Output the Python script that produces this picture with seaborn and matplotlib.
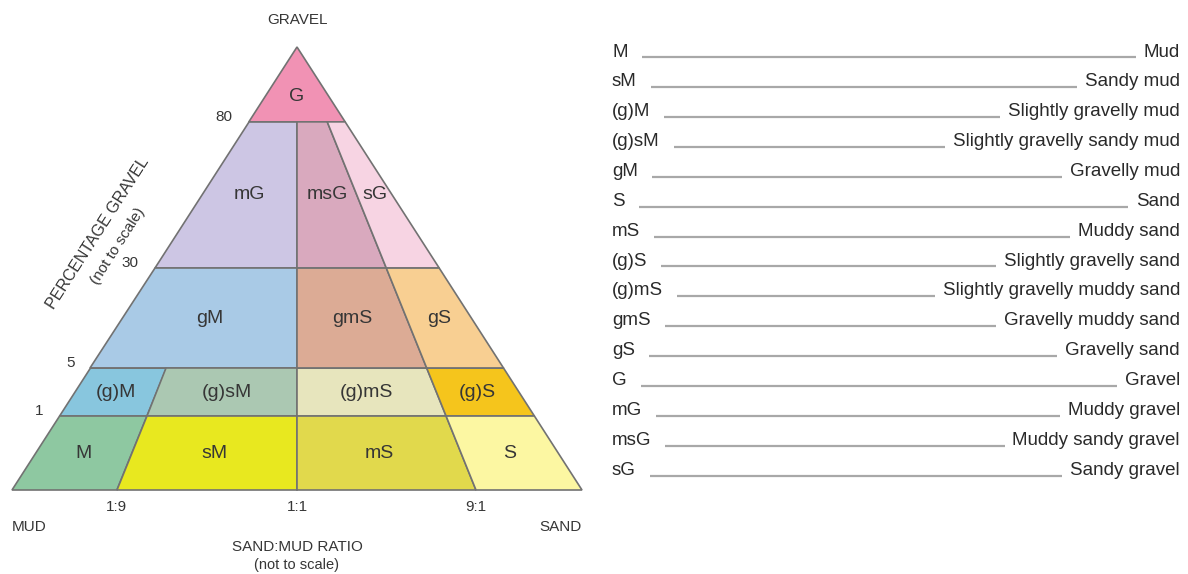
import numpy as np
import matplotlib
matplotlib.use("Agg")
import matplotlib.pyplot as plt
import seaborn as sns

# Folk (1954) gravel-sand-mud classes
region_codes = ["G", "mG", "msG", "sG", "gM", "gmS", "gS",
                "(g)M", "(g)sM", "(g)mS", "(g)S", "M", "sM", "mS", "S"]
sand_lo = [0.0, 0.0, 0.5, 0.9, 0.0, 0.5, 0.9, 0.0, 0.1, 0.5, 0.9, 0.0, 0.1, 0.5, 0.9]
sand_hi = [1.0, 0.5, 0.9, 1.0, 0.5, 0.9, 1.0, 0.1, 0.5, 0.9, 1.0, 0.1, 0.5, 0.9, 1.0]
gravel_lo = [80, 30, 30, 30, 5, 5, 5, 1, 1, 1, 1, 0, 0, 0, 0]
gravel_hi = [100, 80, 80, 80, 30, 30, 30, 5, 5, 5, 5, 1, 1, 1, 1]
region_colors = ["#f192b4", "#cdc6e4", "#d9a9be", "#f7d4e3",
                 "#a9cae6", "#dcab95", "#f8cf92",
                 "#88c6de", "#abc8b2", "#e7e5bd", "#f5c51c",
                 "#8ec8a1", "#e8e81f", "#e1d94c", "#fcf7a2"]

gravel_ticks = [80, 30, 5, 1]
ratio_labels = ["1:9", "1:1", "9:1"]
ratio_sand = [0.1, 0.5, 0.9]

legend_codes = ["M", "sM", "(g)M", "(g)sM", "gM", "S", "mS", "(g)S",
                "(g)mS", "gmS", "gS", "G", "mG", "msG", "sG"]
legend_names = ["Mud", "Sandy mud", "Slightly gravelly mud",
                "Slightly gravelly sandy mud", "Gravelly mud", "Sand",
                "Muddy sand", "Slightly gravelly sand",
                "Slightly gravelly muddy sand", "Gravelly muddy sand",
                "Gravelly sand", "Gravel", "Muddy gravel",
                "Muddy sandy gravel", "Sandy gravel"]

# "not to scale" axes of the diagram
GRAVEL_BREAKS = [0, 1, 5, 30, 80, 100]
GRAVEL_POS = [0, 0.167, 0.275, 0.501, 0.831, 1.0]
SAND_BREAKS = [0, 0.1, 0.5, 0.9, 1.0]
SAND_POS = [0, 0.184, 0.5, 0.814, 1.0]


def gscale(g):
    return np.interp(g, GRAVEL_BREAKS, GRAVEL_POS)


def sscale(s):
    return np.interp(s, SAND_BREAKS, SAND_POS)


def to_xy(s, g):
    h = gscale(g)
    b = sscale(s)
    return b + (0.5 - b) * h, h


sns.set_theme(style="white")
plt.rcParams['font.family'] = ['Liberation Sans', 'DejaVu Sans']
TXT = "#363636"
EDGE = "#727272"

W, H = 1188, 574
fig = plt.figure(figsize=(W / 100, H / 100), dpi=100)
fig.patch.set_facecolor("white")

ax = fig.add_axes([12 / W, 84 / H, 570 / W, 443 / H])
ax.set_xlim(0, 1)
ax.set_ylim(0, 1)
ax.axis("off")

for code, s0, s1, g0, g1, col in zip(region_codes, sand_lo, sand_hi,
                                     gravel_lo, gravel_hi, region_colors):
    pts = [to_xy(s0, g0), to_xy(s1, g0), to_xy(s1, g1), to_xy(s0, g1)]
    xs, ys = zip(*pts)
    ax.fill(xs, ys, facecolor=col, edgecolor=EDGE, lw=1.2, clip_on=False)
    h0, h1 = gscale(g0), gscale(g1)
    if g1 == 100:
        hy = h0 + (h1 - h0) / 3
    else:
        hy = (h0 + h1) / 2
    bl, br = sscale(s0), sscale(s1)
    xl = bl + (0.5 - bl) * hy
    xr = br + (0.5 - br) * hy
    ax.text((xl + xr) / 2, hy, code, ha="center", va="center",
            fontsize=14, color=TXT)

# gravel ticks along the left edge
for g in gravel_ticks:
    h = gscale(g)
    ax.annotate(str(g), (0.5 * h, h), xytext=(-16, 5),
                textcoords="offset pixels", ha="right", va="center",
                fontsize=11, color=TXT, annotation_clip=False)

rot = np.degrees(np.arctan2(443, 284))
ax.annotate("PERCENTAGE GRAVEL", (0.25, 0.5), xytext=(-57, 35),
            textcoords="offset pixels", ha="center", va="center",
            rotation=rot, rotation_mode="anchor", fontsize=11.5,
            color=TXT, annotation_clip=False)
ax.annotate("(not to scale)", (0.25, 0.5), xytext=(-37, 22),
            textcoords="offset pixels", ha="center", va="center",
            rotation=rot, rotation_mode="anchor", fontsize=11,
            color=TXT, annotation_clip=False)

for lab, s in zip(ratio_labels, ratio_sand):
    ax.annotate(lab, (sscale(s), 0), xytext=(0, -17),
                textcoords="offset pixels", ha="center", va="center",
                fontsize=11, color=TXT, annotation_clip=False)

ax.annotate("MUD", (0, 0), xytext=(0, -37), textcoords="offset pixels",
            ha="left", va="center", fontsize=11, color=TXT,
            annotation_clip=False)
ax.annotate("SAND", (1, 0), xytext=(0, -37), textcoords="offset pixels",
            ha="right", va="center", fontsize=11, color=TXT,
            annotation_clip=False)
ax.annotate("SAND:MUD RATIO", (0.5, 0), xytext=(0, -57),
            textcoords="offset pixels", ha="center", va="center",
            fontsize=11, color=TXT, annotation_clip=False)
ax.annotate("(not to scale)", (0.5, 0), xytext=(0, -75),
            textcoords="offset pixels", ha="center", va="center",
            fontsize=10.5, color=TXT, annotation_clip=False)
ax.annotate("GRAVEL", (0.5, 1), xytext=(0, 27), textcoords="offset pixels",
            ha="center", va="center", fontsize=11, color=TXT,
            annotation_clip=False)

# key on the right
n = len(legend_codes)
row_h = 29.86
top = 50 - row_h / 2
lax = fig.add_axes([612 / W, (H - top - n * row_h) / H, 568 / W, n * row_h / H])
lax.set_xlim(0, 1)
lax.set_ylim(n - 0.5, -0.5)
lax.axis("off")

code_txt, name_txt = [], []
for i, (code, name) in enumerate(zip(legend_codes, legend_names)):
    code_txt.append(lax.text(0, i + 0.22, code, ha="left", va="baseline",
                             fontsize=13.5, color="#2a2a2a"))
    name_txt.append(lax.text(1, i + 0.22, name, ha="right", va="baseline",
                             fontsize=13.5, color="#2a2a2a"))

fig.canvas.draw()
renderer = fig.canvas.get_renderer()
inv = lax.transData.inverted()
for i, (ct, nt) in enumerate(zip(code_txt, name_txt)):
    x0 = inv.transform((ct.get_window_extent(renderer).x1 + 14, 0))[0]
    x1 = inv.transform((nt.get_window_extent(renderer).x0 - 8, 0))[0]
    lax.plot([x0, x1], [i + 0.25, i + 0.25], color="#a8a8a8", lw=1.6,
             solid_capstyle="butt")

fig.savefig("out.png", dpi=100, facecolor="white")
